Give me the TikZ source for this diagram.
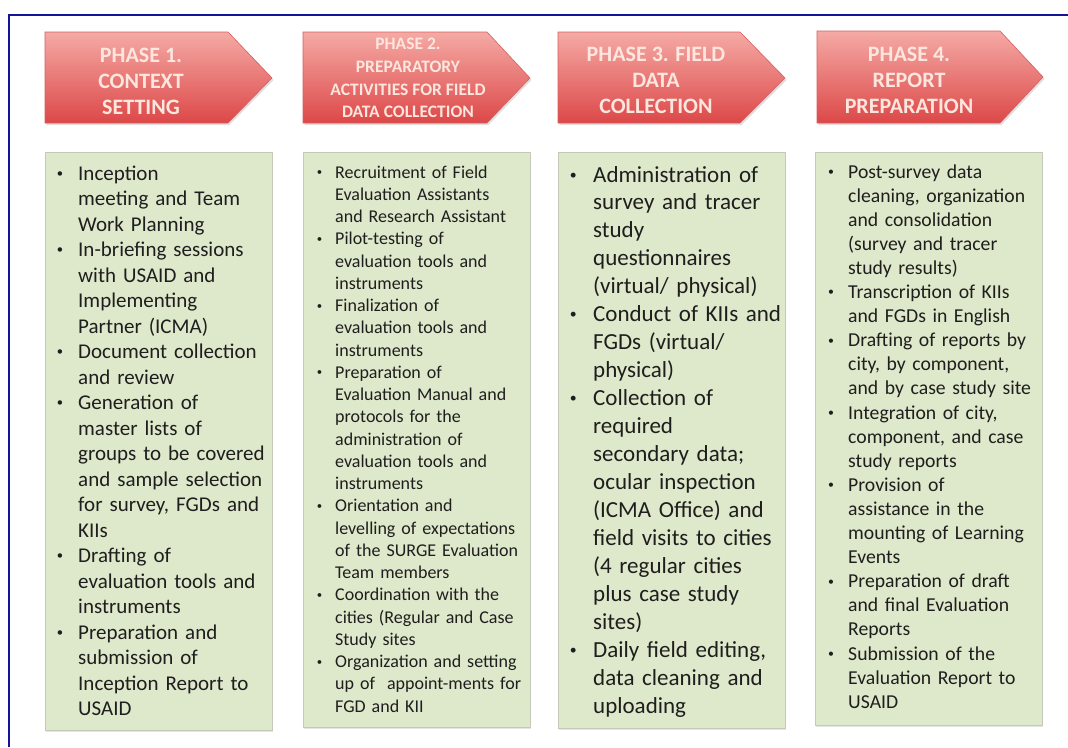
\documentclass[tikz,border=0pt]{standalone}
\usepackage{fontspec}
\setmainfont{Carlito}
\usetikzlibrary{shadows}
\definecolor{frameblue}{RGB}{20,20,150}
\definecolor{chevtop}{RGB}{245,170,165}
\definecolor{chevbot}{RGB}{220,72,72}
\definecolor{chevedge}{RGB}{215,95,95}
\definecolor{chevtext}{RGB}{252,230,222}
\definecolor{boxgreen}{RGB}{222,232,202}
\definecolor{boxline}{RGB}{196,201,186}
\definecolor{bodytext}{RGB}{30,30,30}
\newcommand{\bul}{\leavevmode\llap{\raisebox{0.13em}{\scalebox{0.6}{\textbullet}}\hspace{0.72em}}}
\begin{document}
\begin{tikzpicture}[x=1pt,y=-1pt,
  chevron/.style={top color=chevtop,bottom color=chevbot,draw=chevedge,line width=0.6pt,
    drop shadow={opacity=0.25,shadow xshift=1.5pt,shadow yshift=-2pt}},
  taskbox/.style={fill=boxgreen,draw=boxline,line width=0.8pt,
    drop shadow={opacity=0.2,shadow xshift=1pt,shadow yshift=-2pt}},
  phasetext/.style={text=chevtext,align=center,inner sep=0pt,font=\bfseries\fontsize{22}{26}\selectfont},
  tasktext/.style={text=bodytext,text width=240pt,align=left,anchor=base west,inner sep=0pt}]
\useasboundingbox (0,0) rectangle (1068,747);
\fill[white] (0,0) rectangle (1068,747);
\draw[frameblue,line width=2pt] (1068,15) -- (9,15) -- (9,747);
\shade[chevron] (45,32) -- (228,32) -- (272,78) -- (228,123) -- (45,123) -- cycle;
\shade[chevron] (303,32) -- (487,32) -- (530,78) -- (487,123) -- (303,123) -- cycle;
\shade[chevron] (558,32) -- (740,32) -- (785,78) -- (740,123) -- (558,123) -- cycle;
\shade[chevron] (817,31) -- (1000,31) -- (1043,77) -- (1000,123) -- (817,123) -- cycle;
\node[phasetext] (phase1) at (141,81) {PHASE 1.\\CONTEXT\\SETTING};
\node[phasetext,font=\bfseries\fontsize{17.5}{22.8}\selectfont] (phase2) at (408,78) {PHASE 2.\\PREPARATORY\\ACTIVITIES FOR FIELD\\DATA COLLECTION};
\node[phasetext] (phase3) at (656,80) {PHASE 3. FIELD\\DATA\\COLLECTION};
\node[phasetext] (phase4) at (909,80) {PHASE 4.\\REPORT\\PREPARATION};
\filldraw[taskbox] (45,152) rectangle (272,730);
\filldraw[taskbox] (303,152) rectangle (530,727);
\filldraw[taskbox] (558,152) rectangle (785,728);
\filldraw[taskbox] (815,152) rectangle (1042,725);
\node[tasktext,font=\fontsize{21}{25.5}\selectfont] (tasks1) at (78,180) {\bul Inception\\
meeting and Team\\ Work Planning\\
\bul In-briefing sessions\\ with USAID and\\ Implementing\\ Partner (ICMA)\\
\bul Document collection\\ and review\\
\bul Generation of\\ master lists of\\ groups to be covered\\ and sample selection\\ for survey, FGDs and\\ KIIs\\
\bul Drafting of\\ evaluation tools and\\ instruments\\
\bul Preparation and\\ submission of\\ Inception Report to\\ USAID};
\node[tasktext,font=\fontsize{18}{22.25}\selectfont] (tasks2) at (335,178) {\bul Recruitment of Field\\ Evaluation Assistants\\ and Research Assistant\\
\bul Pilot-testing of\\ evaluation tools and\\ instruments\\
\bul Finalization of\\ evaluation tools and\\ instruments\\
\bul Preparation of\\ Evaluation Manual and\\ protocols for the\\ administration of\\ evaluation tools and\\ instruments\\
\bul Orientation and\\ levelling of expectations\\ of the SURGE Evaluation\\ Team members\\
\bul Coordination with the\\ cities (Regular and Case\\ Study sites\\
\bul Organization and setting\\ up of~ appoint-ments for\\ FGD and KII};
\node[tasktext,font=\fontsize{23}{27.95}\selectfont] (tasks3) at (593,182) {\bul Administration of\\ survey and tracer\\ study\\ questionnaires\\ (virtual/ physical)\\
\bul Conduct of KIIs and\\ FGDs (virtual/\\ physical)\\
\bul Collection of\\ required\\ secondary data;\\ ocular inspection\\ (ICMA Office) and\\ field visits to cities\\ (4 regular cities\\ plus case study\\ sites)\\
\bul Daily field editing,\\ data cleaning and\\ uploading};
\node[tasktext,font=\fontsize{19.7}{24.1}\selectfont] (tasks4) at (848,178) {\bul Post-survey data\\ cleaning, organization\\ and consolidation\\ (survey and tracer\\ study results)\\
\bul Transcription of KIIs\\ and FGDs in English\\
\bul Drafting of reports by\\ city, by component,\\ and by case study site\\
\bul Integration of city,\\ component, and case\\ study reports\\
\bul Provision of\\ assistance in the\\ mounting of Learning\\ Events\\
\bul Preparation of draft\\ and final Evaluation\\ Reports\\
\bul Submission of the\\ Evaluation Report to\\ USAID};
\end{tikzpicture}
\end{document}
